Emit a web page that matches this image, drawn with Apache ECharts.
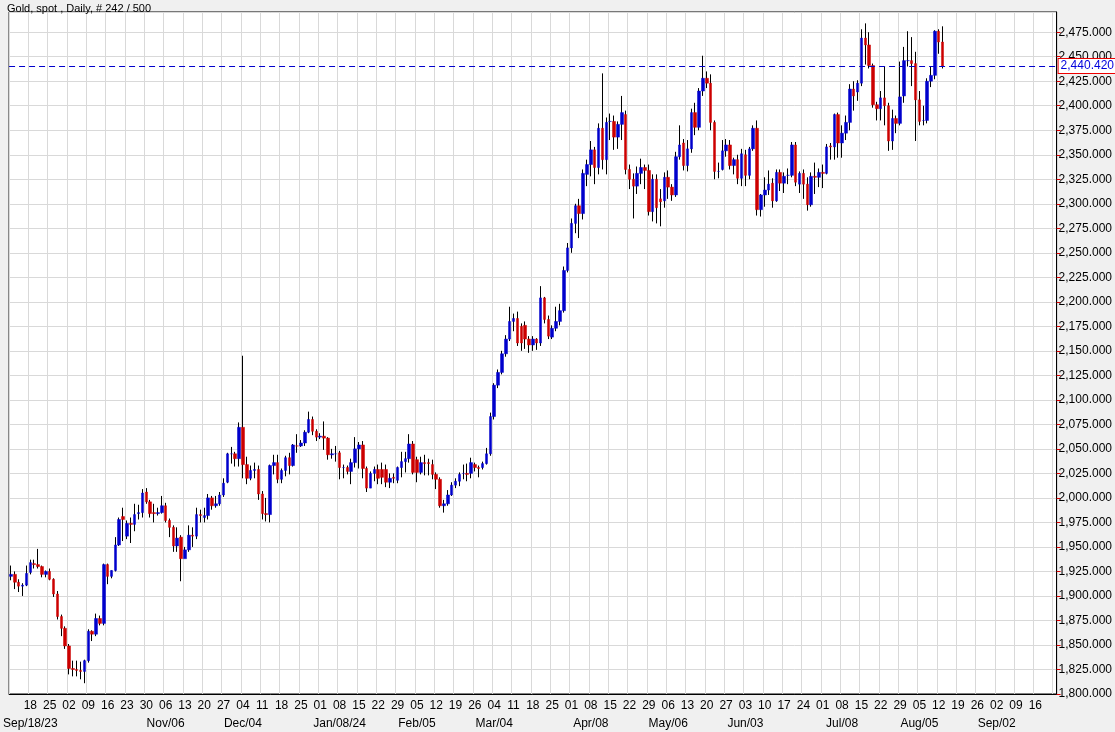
<!DOCTYPE html>
<html>
<head>
<meta charset="utf-8">
<script src="https://cdn.jsdelivr.net/npm/echarts@6/dist/echarts.min.js"></script>
<style>
html,body{margin:0;padding:0;background:#f0f0f0;}
#myChart{width:1115px;height:732px;}
</style>
</head>
<body>
<div id="myChart"></div>
<script>
// OHLC per trading day, starting Mon 2023-09-11
var opens = [1920,1922,1914,1910,1911,1924,1933,1932,1930,1922,1925,1917,1902,1879,1867,1849,1826,1825,1824,1823,
1834,1864,1861,1877,1872,1932,1920,1926,1952,1981,1961,1974,1973,1984,1985,2006,1996,1985,1984,1985,
1992,1977,1970,1951,1960,1938,1947,1962,1961,1983,1980,1982,2000,1992,1994,2003,2016,2045,2045,2040,
2072,2034,2020,2028,2029,2004,1984,1983,2033,2036,2019,2028,2041,2033,2053,2053,2056,2067,2080,2068,
2062,2063,2061,2044,2045,2046,2031,2031,2027,2036,2050,2054,2030,2010,2025,2029,2029,2029,2016,2021,
2018,2031,2037,2040,2055,2039,2026,2036,2036,2034,2024,2019,1992,1994,2003,2013,2017,2025,2025,2025,
2034,2031,2031,2035,2045,2083,2115,2128,2147,2162,2180,2183,2175,2176,2162,2156,2162,2158,2204,2182,
2164,2173,2180,2191,2232,2255,2280,2298,2290,2330,2340,2355,2337,2377,2345,2384,2384,2368,2381,2391,
2335,2325,2318,2331,2337,2334,2292,2325,2305,2303,2327,2317,2309,2348,2362,2339,2356,2393,2378,2415,
2428,2423,2383,2333,2335,2354,2360,2339,2345,2326,2350,2329,2356,2377,2294,2309,2314,2321,2303,2332,
2321,2329,2329,2360,2320,2331,2320,2299,2328,2327,2332,2331,2359,2358,2391,2362,2372,2383,2417,2414,
2423,2469,2462,2441,2401,2397,2408,2400,2364,2387,2382,2410,2446,2446,2443,2406,2385,2385,2425,2431,
2476,2465];
var closes = [1922,1914,1910,1911,1923,1934,1932,1930,1922,1925,1917,1902,1879,1867,1849,1826,1825,1824,1823,1834,
1864,1861,1877,1872,1932,1920,1926,1952,1978,1978,1974,1973,1983,1985,2005,1996,1984,1984,1985,1992,
1977,1970,1951,1959,1938,1947,1962,1961,1983,1982,1982,2000,1992,1994,2003,2015,2045,2045,2040,2072,
2034,2020,2028,2029,2004,1984,1983,2033,2036,2019,2028,2041,2033,2054,2053,2056,2067,2080,2068,2062,
2063,2061,2044,2045,2045,2031,2031,2027,2036,2050,2054,2030,2010,2025,2029,2020,2021,2016,2020,2020,
2031,2037,2040,2055,2026,2026,2036,2035,2035,2024,2019,1992,1994,2003,2013,2017,2024,2025,2024,2036,
2031,2030,2035,2045,2083,2115,2128,2147,2162,2180,2183,2158,2158,2162,2156,2162,2158,2204,2182,2165,
2173,2180,2191,2232,2255,2280,2298,2290,2331,2340,2355,2337,2377,2345,2383,2384,2368,2381,2393,2335,
2325,2318,2331,2337,2334,2292,2325,2296,2302,2327,2317,2309,2348,2360,2339,2356,2393,2378,2415,2428,
2423,2383,2333,2333,2354,2360,2339,2345,2326,2351,2329,2356,2377,2294,2309,2314,2320,2303,2332,2321,
2328,2329,2360,2322,2331,2320,2299,2328,2327,2332,2331,2358,2358,2391,2362,2372,2383,2417,2410,2423,
2469,2462,2441,2401,2397,2408,2400,2364,2387,2382,2409,2446,2446,2443,2406,2384,2385,2425,2431,2476,
2465,2440.42];
var lows = [1916,1907,1904,1900,1910,1922,1928,1928,1919,1919,1916,1899,1876,1859,1846,1820,1818,1818,1815,1811,
1832,1854,1859,1870,1870,1912,1918,1925,1951,1956,1958,1954,1966,1978,1980,1994,1980,1975,1982,1984,
1975,1960,1945,1945,1915,1942,1945,1950,1958,1975,1975,1978,1988,1990,1992,2001,2015,2035,2032,2032,
2020,2014,2018,2020,1998,1978,1976,1975,2024,2015,2015,2022,2024,2032,2046,2052,2053,2066,2064,2058,
2060,2049,2039,2040,2037,2019,2020,2024,2014,2031,2030,2020,2006,2010,2017,2014,2014,2011,2010,2015,
2015,2021,2026,2036,2024,2016,2024,2023,2023,2019,2009,1990,1985,1992,2002,2010,2012,2019,2017,2020,
2027,2021,2029,2034,2043,2080,2112,2126,2144,2160,2170,2155,2150,2152,2148,2150,2151,2155,2178,2162,
2162,2170,2176,2189,2230,2250,2270,2265,2284,2318,2328,2320,2330,2335,2330,2365,2355,2356,2365,2330,
2315,2285,2310,2320,2315,2288,2282,2280,2277,2296,2305,2303,2307,2345,2334,2333,2352,2370,2375,2410,
2418,2375,2325,2326,2334,2348,2335,2330,2320,2318,2318,2325,2354,2288,2287,2297,2309,2296,2302,2313,
2311,2320,2327,2318,2311,2305,2293,2297,2310,2317,2316,2330,2345,2345,2347,2347,2365,2375,2395,2405,
2420,2442,2438,2398,2385,2385,2380,2354,2355,2372,2380,2403,2440,2420,2364,2380,2380,2382,2419,2427,
2453,2438];
var highs = [1931,1925,1917,1913,1931,1937,1937,1948,1931,1926,1928,1918,1905,1881,1869,1851,1834,1834,1833,1835,
1866,1865,1882,1880,1933,1933,1926,1960,1980,1990,1977,1980,1994,1993,2009,2010,1998,1994,1990,2002,
1995,1979,1972,1970,1962,1950,1972,1970,1990,1988,1990,2004,2002,2002,2006,2020,2046,2052,2047,2077,
2145,2042,2033,2036,2033,2007,2000,2034,2044,2044,2030,2043,2046,2055,2065,2059,2069,2088,2083,2070,
2066,2078,2062,2050,2053,2048,2034,2033,2040,2062,2057,2058,2032,2027,2032,2034,2036,2034,2025,2025,
2032,2047,2047,2065,2058,2042,2042,2044,2040,2039,2026,2021,1998,2008,2016,2020,2026,2034,2035,2041,
2036,2033,2037,2051,2087,2117,2131,2150,2166,2195,2188,2190,2178,2180,2165,2165,2163,2216,2205,2186,
2176,2195,2198,2236,2260,2285,2300,2305,2335,2345,2364,2358,2382,2433,2388,2392,2390,2384,2410,2395,
2340,2331,2338,2346,2340,2340,2330,2330,2315,2332,2334,2320,2353,2380,2366,2365,2397,2403,2418,2451,
2435,2432,2385,2342,2365,2366,2365,2347,2350,2356,2355,2358,2380,2385,2310,2327,2334,2326,2335,2335,
2332,2336,2363,2363,2333,2335,2327,2332,2342,2336,2340,2361,2362,2392,2393,2380,2390,2422,2425,2426,
2478,2484,2475,2443,2404,2415,2440,2403,2396,2390,2445,2460,2476,2470,2455,2415,2400,2428,2440,2477,
2478,2481];
var lastPrice = 2440.42;
var startDate = new Date(2023, 8, 11);
var totalSlots = 271;
var lastDayLabel = '2024-09-16';
var monthLabels = {
    '2023-09-18': 'Sep/18/23', '2023-11-06': 'Nov/06', '2023-12-04': 'Dec/04',
    '2024-01-08': 'Jan/08/24', '2024-02-05': 'Feb/05', '2024-03-04': 'Mar/04',
    '2024-04-08': 'Apr/08', '2024-05-06': 'May/06', '2024-06-03': 'Jun/03',
    '2024-07-08': 'Jul/08', '2024-08-05': 'Aug/05', '2024-09-02': 'Sep/02'
};

function pad(n) { return (n < 10 ? '0' : '') + n; }
var dates = [];
var d = new Date(startDate);
while (dates.length < totalSlots) {
    var wd = d.getDay();
    if (wd !== 0 && wd !== 6) {
        dates.push(d.getFullYear() + '-' + pad(d.getMonth() + 1) + '-' + pad(d.getDate()));
    }
    d.setDate(d.getDate() + 1);
}
function isMonday(idx) { return idx % 5 === 0; }

var wickData = [], bodyData = [];
for (var i = 0; i < closes.length; i++) {
    wickData.push([opens[i], closes[i], lows[i], highs[i]]);
    bodyData.push([opens[i], closes[i], Math.min(opens[i], closes[i]), Math.max(opens[i], closes[i])]);
}

var myChart = echarts.init(document.getElementById('myChart'));
var font = 'Liberation Sans, Arial, sans-serif';
var option = {
    animation: false,
    backgroundColor: '#f0f0f0',
    title: {
        text: 'Gold, spot , Daily, # 242 / 500',
        left: 2, top: -2,
        textStyle: { fontSize: 11, fontWeight: 'normal', color: '#000', fontFamily: font }
    },
    grid: { left: 5, right: 58, top: 12, bottom: 38, show: true, backgroundColor: '#fff', borderColor: '#000', borderWidth: 1 },
    xAxis: [{
        type: 'category',
        data: dates,
        boundaryGap: true,
        axisLine: { lineStyle: { color: '#000' } },
        axisTick: { show: false },
        axisLabel: {
            interval: function (idx, v) { return isMonday(idx) && idx > 0 && v <= lastDayLabel; },
            formatter: function (v) { return v.slice(8); },
            color: '#000', fontSize: 12, fontFamily: font, margin: 6
        },
        splitLine: { show: true, interval: function (idx) { return isMonday(idx); }, lineStyle: { color: '#d9d9d9' } }
    }, {
        type: 'category',
        data: dates,
        position: 'bottom',
        offset: 18,
        axisLine: { show: false },
        axisTick: { show: false },
        axisLabel: {
            interval: function (idx, v) { return !!monthLabels[v]; },
            formatter: function (v) { return monthLabels[v] || ''; },
            color: '#000', fontSize: 12, fontFamily: font, margin: 6
        }
    }],
    yAxis: {
        type: 'value',
        position: 'right',
        min: 1800, max: 2495.6, interval: 25,
        axisLine: { show: true, lineStyle: { color: '#000' } },
        axisTick: { show: true, length: 4, lineStyle: { color: '#dd0000' } },
        axisLabel: {
            showMaxLabel: false,
            color: '#000', fontSize: 12, fontFamily: font, margin: 2,
            formatter: function (v) { return v.toLocaleString('en-US') + '.000'; }
        },
        splitLine: { lineStyle: { color: '#d9d9d9' } }
    },
    series: [{
        type: 'candlestick',
        barWidth: 1,
        data: wickData,
        itemStyle: { color: '#000', color0: '#000', borderColor: '#000', borderColor0: '#000', borderWidth: 1 },
        markLine: {
            symbol: 'none', silent: true,
            data: [{ yAxis: lastPrice }],
            lineStyle: { color: '#0000cc', type: [6, 4], width: 1 },
            label: {
                position: 'end', distance: 2,
                formatter: '2,440.420',
                color: '#0000dd', fontSize: 12, fontFamily: font,
                backgroundColor: '#fff', borderColor: '#ee0000', borderWidth: 1, padding: [1, 2]
            }
        }
    }, {
        type: 'candlestick',
        barWidth: 3,
        data: bodyData,
        itemStyle: { color: '#0000cc', color0: '#cc0000', borderColor: '#0000cc', borderColor0: '#cc0000', borderWidth: 0.5 }
    }]
};
myChart.setOption(option);
</script>
</body>
</html>
